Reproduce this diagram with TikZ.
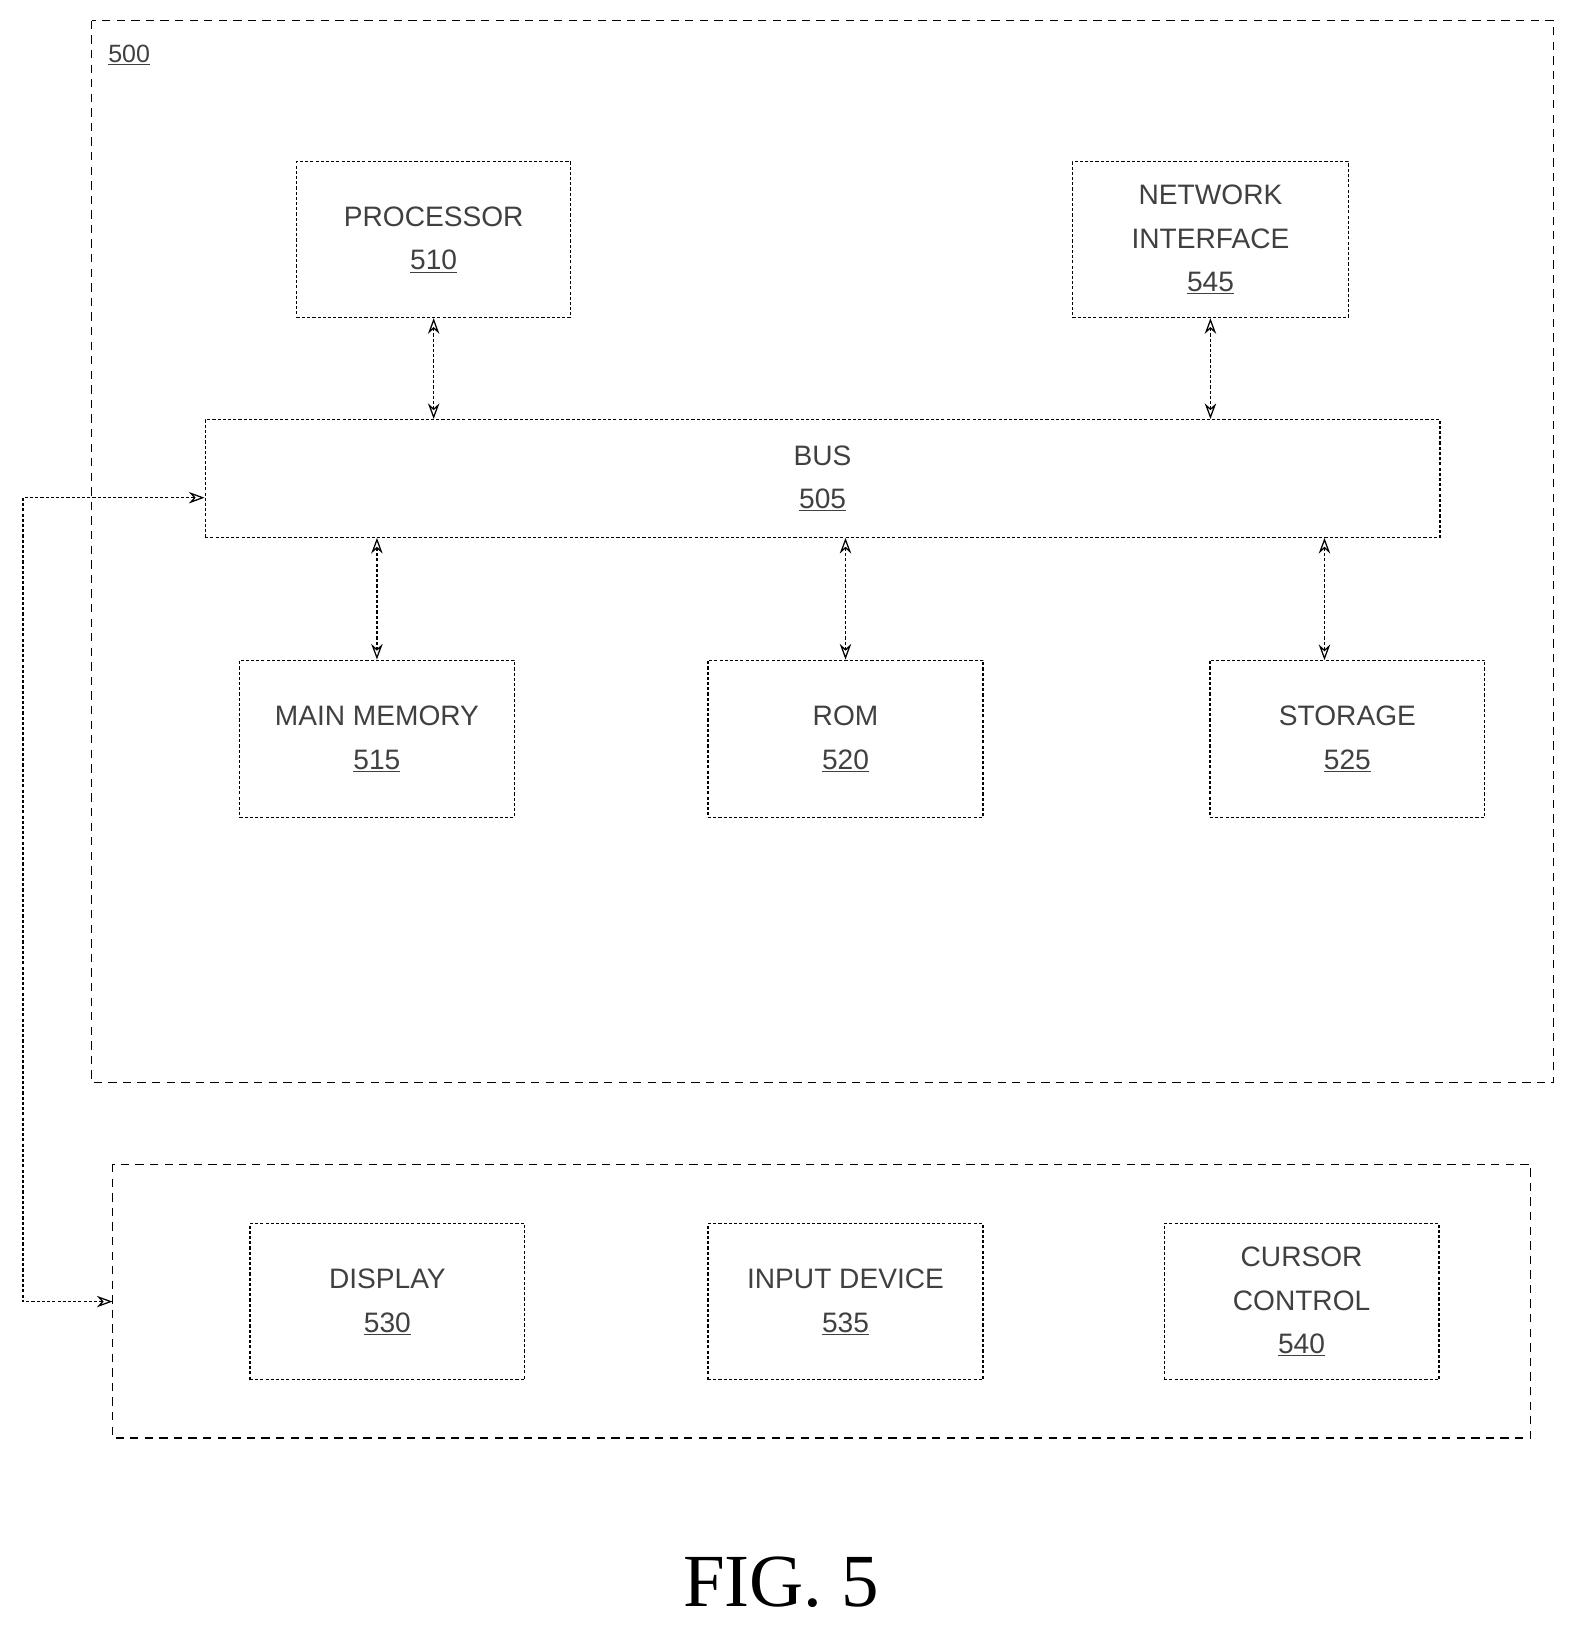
\documentclass[tikz,border=0pt]{standalone}
\usepackage{fontspec}
\setmainfont{Liberation Sans}
\newfontfamily\figfont{Liberation Serif}
\usetikzlibrary{arrows.meta}
\begin{document}
\begin{tikzpicture}[x=1pt,y=-1pt,
  box/.style={draw,densely dashed,line width=1.2pt,inner sep=0pt,align=center,font=\fontsize{27}{42}\selectfont,text=black!75},
  frame/.style={draw,line width=1.1pt,dash pattern=on 8pt off 6pt},
  link/.style={densely dashed,line width=1.2pt,{Stealth[length=15pt,width=11pt,open]}-{Stealth[length=15pt,width=11pt,open]}}]
\useasboundingbox (0,0) rectangle (1520,1576);
\draw[frame] (88,20) rectangle (1492,1040);
\node[font=\fontsize{24}{28}\selectfont,text=black!75] (l500) at (124,53) {\underline{500}};
\draw[frame] (108,1118) rectangle (1470,1381);
\coordinate (lowl) at (108,1250);
\node[box,minimum width=263pt,minimum height=150pt] (proc) at (416.5,230) {PROCESSOR\\\underline{510}};
\node[box,minimum width=265pt,minimum height=150pt] (net) at (1162.5,230) {NETWORK\\INTERFACE\\\underline{545}};
\node[box,minimum width=1186pt,minimum height=113pt] (bus) at (790,459.5) {BUS\\\underline{505}};
\node[box,minimum width=264pt,minimum height=151pt] (mm) at (362,709.5) {MAIN MEMORY\\\underline{515}};
\node[box,minimum width=264pt,minimum height=151pt] (rom) at (812,709.5) {ROM\\\underline{520}};
\node[box,minimum width=264pt,minimum height=151pt] (sto) at (1294,709.5) {STORAGE\\\underline{525}};
\node[box,minimum width=264pt,minimum height=150pt] (disp) at (372,1250) {DISPLAY\\\underline{530}};
\node[box,minimum width=264pt,minimum height=150pt] (inp) at (812,1250) {INPUT DEVICE\\\underline{535}};
\node[box,minimum width=264pt,minimum height=150pt] (cur) at (1250,1250) {CURSOR\\CONTROL\\\underline{540}};
\draw[link] (proc.south) -- (proc.south |- bus.north);
\draw[link] (net.south) -- (net.south |- bus.north);
\draw[link] (bus.south -| mm.north) -- (mm.north);
\draw[link] (bus.south -| rom.north) -- (rom.north);
\draw[link] (bus.south -| 1272,0) -- (1272,634);
\draw[link] (bus.west |- 0,478) -- (22,478) -- (22,1250) -- (lowl);
\node[font=\figfont\fontsize{72}{80}\selectfont] (fig) at (750,1520) {FIG. 5};
\end{tikzpicture}
\end{document}
